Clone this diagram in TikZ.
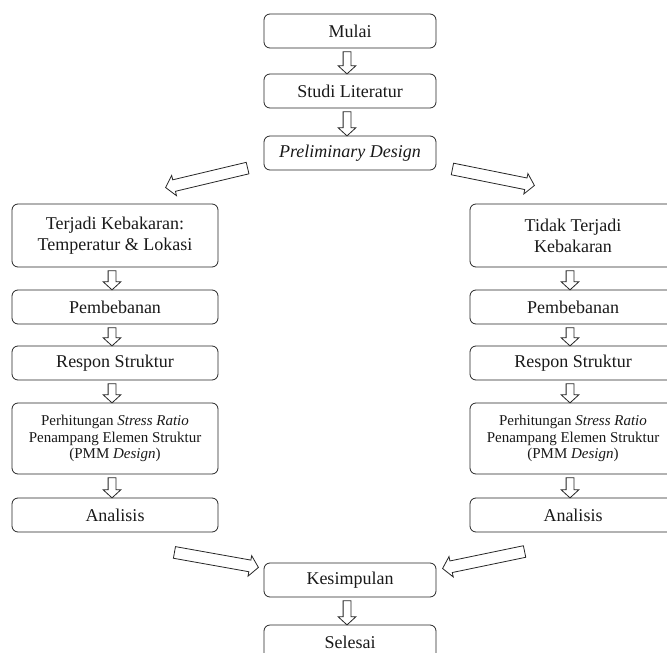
\documentclass[tikz,border=0pt]{standalone}
\usepackage{fontspec}
\setmainfont{Liberation Serif}
\usetikzlibrary{shapes.arrows,calc}
\tikzset{
  box/.style={draw=black!85, line width=0.8pt, rounded corners=6pt, align=center,
    inner sep=0pt, minimum height=34pt, font=\fontsize{18}{21}\selectfont, text=black!90},
  midbox/.style={box, minimum width=172pt},
  sidebox/.style={box, minimum width=206pt},
  barrowv/.style={draw=black!85, fill=white, line width=0.8pt, shape=single arrow,
    inner xsep=0pt, inner ysep=3.5pt, single arrow head extend=5pt,
    single arrow head indent=0pt, single arrow tip angle=95},
  barrowd/.style={draw=black!85, fill=white, line width=0.8pt, shape=single arrow,
    inner xsep=0pt, inner ysep=5.5pt, single arrow head extend=4.5pt,
    single arrow head indent=0pt, single arrow tip angle=100},
}
\newcommand{\blockarr}[3]{%
  \path let \p1=($(#3)-(#2)$), \n1={atan2(\y1,\x1)}, \n2={veclen(\x1,\y1)} in
    node[#1, minimum height=\n2, rotate=\n1] at ($(#2)!0.5!(#3)$) {};}
\begin{document}
\begin{tikzpicture}[x=1pt,y=-1pt]
\useasboundingbox (0,0) rectangle (667,653);
\clip (0,0) rectangle (667,653);
% centre column
\node[midbox] (mulai) at (350,31) {Mulai};
\node[midbox] (studi) at (350,91) {Studi Literatur};
\node[midbox] (prelim) at (350,153) {\textit{Preliminary Design}};
\node[midbox] (kes) at (350,580) {Kesimpulan};
\node[midbox] (sel) at (350,642) {Selesai};
% left column
\node[sidebox, minimum height=63pt] (lkeb) at (115,235.5) {Terjadi Kebakaran:\\Temperatur \& Lokasi};
\node[sidebox] (lpem) at (115,307) {Pembebanan};
\node[sidebox] (lres) at (115,363) {Respon Struktur};
\node[sidebox, minimum height=71pt, font=\fontsize{15}{16.5}\selectfont] (lper) at (115,438.5)
  {Perhitungan \textit{Stress Ratio}\\Penampang Elemen Struktur\\(PMM \textit{Design})};
\node[sidebox] (lana) at (115,515) {Analisis};
% right column
\node[sidebox, minimum height=63pt] (rkeb) at (573,235.5) {Tidak Terjadi\\Kebakaran};
\node[sidebox] (rpem) at (573,307) {Pembebanan};
\node[sidebox] (rres) at (573,363) {Respon Struktur};
\node[sidebox, minimum height=71pt, font=\fontsize{15}{16.5}\selectfont] (rper) at (573,438.5)
  {Perhitungan \textit{Stress Ratio}\\Penampang Elemen Struktur\\(PMM \textit{Design})};
\node[sidebox] (rana) at (573,515) {Analisis};
% vertical block arrows
\foreach \a/\b in {mulai/studi, studi/prelim, kes/sel,
  lkeb/lpem, lpem/lres, lres/lper, lper/lana,
  rkeb/rpem, rpem/rres, rres/rper, rper/rana}{
  \coordinate (va) at ($(\a.south)+(-3,1.5)$);
  \coordinate (vb) at ($(\b.north)+(-3,-1.5)$);
  \blockarr{barrowv}{va}{vb}
}
% diagonal block arrows
\coordinate (t1) at (250,167.5); \coordinate (h1) at (168,187);
\coordinate (t2) at (450,168.5); \coordinate (h2) at (532,185);
\coordinate (t3) at (172,552); \coordinate (h3) at (256,567);
\coordinate (t4) at (527,551); \coordinate (h4) at (445,568);
\blockarr{barrowd}{t1}{h1}
\blockarr{barrowd}{t2}{h2}
\blockarr{barrowd}{t3}{h3}
\blockarr{barrowd}{t4}{h4}
\end{tikzpicture}
\end{document}
